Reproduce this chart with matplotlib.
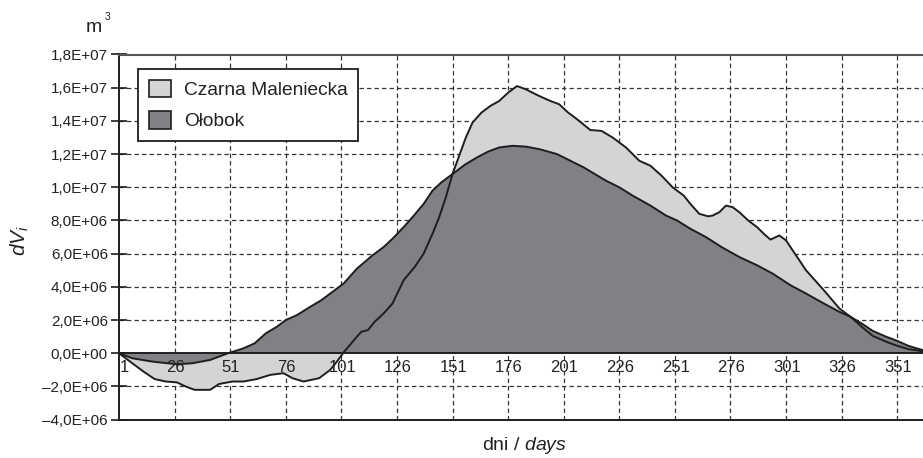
import matplotlib
matplotlib.use("Agg")
import matplotlib.pyplot as plt
from matplotlib.patches import Patch
from matplotlib.transforms import offset_copy

plt.rcParams['font.family'] = ['Liberation Sans', 'DejaVu Sans']
plt.rcParams['mathtext.fontset'] = 'custom'
plt.rcParams['mathtext.rm'] = 'Liberation Sans'
plt.rcParams['mathtext.it'] = 'Liberation Sans:italic'

# ---- data (values in m3) ----
czarna_days = [1, 4, 7, 12, 17, 22, 27, 31, 35, 42, 46, 52, 57, 63, 69, 75, 79, 84, 91, 96, 99,
               102, 108, 110, 113, 116, 120, 124, 129, 134, 138, 142, 145, 148, 151, 154, 157,
               160, 164, 168, 172, 176, 180, 184, 190, 195, 199, 203, 207, 213, 218, 223, 229,
               235, 240, 245, 250, 255, 258, 262, 266, 268, 271, 274, 277, 280, 284, 288, 291,
               294, 298, 301, 304, 310, 314, 318, 325, 330, 335, 340, 346, 351, 356, 361, 365]
czarna_vals = [0.0, -0.3, -0.6, -1.1, -1.55, -1.7, -1.75, -2.0, -2.2, -2.2, -1.85, -1.7, -1.7,
               -1.55, -1.3, -1.2, -1.5, -1.7, -1.5, -1.0, -0.5,
               0.05, 1.0, 1.3, 1.4, 1.9, 2.4, 3.0, 4.4, 5.2, 6.0, 7.2, 8.2, 9.4, 10.8, 11.9, 13.0,
               13.9, 14.5, 14.9, 15.2, 15.7, 16.1, 15.9, 15.5, 15.2, 15.0, 14.5, 14.1, 13.45, 13.4,
               13.0, 12.4, 11.6, 11.3, 10.7, 10.0, 9.5, 9.0, 8.4, 8.25, 8.3, 8.5, 8.9, 8.8, 8.5,
               8.0, 7.6, 7.2, 6.85, 7.1, 6.8, 6.2, 5.0, 4.4, 3.8, 2.7, 2.2, 1.6, 1.05, 0.7, 0.45,
               0.25, 0.15, 0.05]
czarna_vals = [v * 1e6 for v in czarna_vals]

olobok_days = [1, 7, 16, 27, 34, 42, 50, 57, 62, 67, 72, 76, 81, 87, 92, 96, 102, 108, 115, 120,
               124, 129, 133, 138, 142, 146, 150, 153, 157, 162, 167, 172, 178, 184, 190, 198,
               204, 210, 215, 220, 226, 232, 240, 247, 252, 258, 265, 272, 280, 288, 295, 303,
               310, 318, 325, 330, 335, 340, 346, 351, 356, 361, 365]
olobok_vals = [0.0, -0.3, -0.5, -0.66, -0.6, -0.4, 0.0, 0.3, 0.6, 1.2, 1.6, 2.0, 2.3, 2.8, 3.2,
               3.6, 4.2, 5.1, 5.9, 6.4, 6.9, 7.6, 8.2, 9.0, 9.8, 10.3, 10.7, 11.0, 11.4, 11.8,
               12.15, 12.4, 12.5, 12.45, 12.3, 12.0, 11.6, 11.2, 10.8, 10.4, 10.0, 9.5, 8.9, 8.3,
               8.0, 7.5, 7.0, 6.4, 5.8, 5.3, 4.8, 4.1, 3.6, 3.0, 2.5, 2.2, 1.8, 1.35, 1.0, 0.75,
               0.45, 0.25, 0.1]
olobok_vals = [v * 1e6 for v in olobok_vals]

series_names = ['Czarna Maleniecka', 'Ołobok']
x_tick_days = [1, 26, 51, 76, 101, 126, 151, 176, 201, 226, 251, 276, 301, 326, 351]
y_ticks = [-4e6, -2e6, 0, 2e6, 4e6, 6e6, 8e6, 1e7, 1.2e7, 1.4e7, 1.6e7, 1.8e7]
y_tick_labels = ['–4,0E+06', '–2,0E+06', '0,0E+00', '2,0E+06', '4,0E+06', '6,0E+06',
                 '8,0E+06', '1,0E+07', '1,2E+07', '1,4E+07', '1,6E+07', '1,8E+07']

LIGHT = '#d3d4d6'
DARK = '#808184'
INK = '#1e1e1e'

W, H = 923, 458
fig = plt.figure(figsize=(W / 100, H / 100), dpi=100)
ax_left, ax_right = 119 / W, 1.0
ax_bottom, ax_top = 1 - 419.7 / H, 1 - 54.5 / H
ax = fig.add_axes([ax_left, ax_bottom, ax_right - ax_left, ax_top - ax_bottom])

ax.set_xlim(1, 362.6)
ax.set_ylim(-4e6, 1.8e7)

# grid
ax.set_axisbelow(True)
for d in x_tick_days[1:]:
    ax.axvline(d, color='#333333', lw=0.9, ls=(0, (3.5, 2.5)), zorder=0.5)
for yv in y_ticks[1:-1]:
    if yv != 0:
        ax.axhline(yv, color='#333333', lw=0.9, ls=(0, (3.5, 2.5)), zorder=0.5)

# areas
ax.fill_between(czarna_days, czarna_vals, 0, facecolor=LIGHT, edgecolor='none', zorder=1)
ax.fill_between(olobok_days, olobok_vals, 0, facecolor=DARK, edgecolor='none', zorder=2)
ax.plot(czarna_days, czarna_vals, color=INK, lw=1.4, zorder=3, solid_joinstyle='round')
ax.plot(olobok_days, olobok_vals, color=INK, lw=1.4, zorder=3, solid_joinstyle='round')
ax.axhline(0, color=INK, lw=1.4, zorder=4)

# spines
for s in ['left', 'bottom']:
    ax.spines[s].set_color(INK)
    ax.spines[s].set_linewidth(1.4)
ax.spines['top'].set_color('#555555')
ax.spines['top'].set_linewidth(1.5)
ax.spines['right'].set_visible(False)

ax.set_yticks(y_ticks)
ax.set_yticklabels(y_tick_labels, fontsize=11, color='#222222')
ax.tick_params(axis='y', direction='inout', length=12, width=1.2, color=INK, pad=2)
ax.set_xticks([])

# x tick labels on the zero line
for d in x_tick_days:
    dx = 5 if d == 1 else 0.8
    tr = offset_copy(ax.transData, fig=fig, x=dx, y=-14, units='dots')
    ax.text(d, 0, str(d), transform=tr, ha='center', va='center', fontsize=12,
            color='#222222', zorder=5)

# labels
fig.text(20 / W, 1 - 240 / H, r'$dV_i$', rotation=90, ha='center', va='center',
         fontsize=15, color='#222222')
fig.text(94 / W, 1 - 27 / H, 'm', ha='center', va='center', fontsize=14, color='#222222')
fig.text(108 / W, 1 - 17 / H, '3', ha='center', va='center', fontsize=7.5, color='#222222')
fig.text(525 / W, 1 - 446 / H, r'dni / $\mathit{days}$', ha='center', va='center',
         fontsize=14, color='#222222')

handles = [Patch(facecolor=LIGHT, edgecolor=INK, linewidth=1.2, label=series_names[0]),
           Patch(facecolor=DARK, edgecolor=INK, linewidth=1.2, label=series_names[1])]
leg = fig.legend(handles=handles, loc='upper left', bbox_to_anchor=(138 / W, 1 - 69 / H),
                 frameon=True, fancybox=False, fontsize=13.8, handlelength=1.15,
                 handleheight=1.05, handletextpad=0.7, labelspacing=0.62, borderpad=0.55,
                 borderaxespad=0)
leg.get_frame().set_edgecolor(INK)
leg.get_frame().set_linewidth(1.3)
leg.get_frame().set_facecolor('white')
leg.get_frame().set_alpha(1)
for t in leg.get_texts():
    t.set_color('#222222')

fig.savefig('out.png', dpi=100)
